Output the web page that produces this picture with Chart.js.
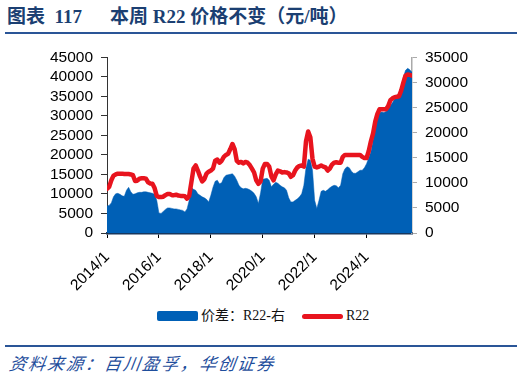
<!DOCTYPE html>
<html><head><meta charset="utf-8">
<script src="https://cdn.jsdelivr.net/npm/chart.js@4"></script>
<style>
html,body{margin:0;padding:0;background:#fff;width:524px;height:379px;overflow:hidden;position:relative;font-family:"Liberation Sans",Arial,sans-serif}
.t{position:absolute;top:5px;font-family:"Liberation Serif","Noto Sans CJK SC",serif;font-weight:bold;font-size:19px;color:#1b3f72;white-space:nowrap;line-height:24px}
.rule{position:absolute;left:5px;width:512px;height:2px;background:#2a5597}
#wrap{position:absolute;left:0;top:40px;width:524px;height:260px}
.lg{position:absolute;top:308px;height:16px;font-family:"Liberation Serif","Noto Sans CJK SC",serif;font-size:14px;color:#111;line-height:16px;white-space:nowrap}
.foot{position:absolute;left:8px;top:353px;font-family:"Noto Sans CJK SC",sans-serif;font-style:italic;font-size:17px;letter-spacing:2px;color:#1f4e9c;line-height:20px;white-space:nowrap;transform:skewX(-8deg);transform-origin:left bottom}
</style></head><body>
<div class="t" style="left:7px">图表&nbsp; 117</div>
<div class="t" style="left:110px">本周 R22 价格不变（元/吨）</div>
<div class="rule" style="top:32px"></div>
<div id="wrap"><canvas id="c" width="524" height="260"></canvas></div>
<div class="lg" style="left:157px"><span style="position:absolute;left:0;top:3px;width:41px;height:10px;background:#0060b6;border-radius:2px"></span><span style="position:absolute;left:44px;top:0" id="lg1"></span></div>
<div class="lg" style="left:302px"><span style="position:absolute;left:0;top:6px;width:41px;height:5px;background:#e8141e;border-radius:3px"></span><span style="position:absolute;left:44px;top:0" id="lg2"></span></div>
<div class="rule" style="top:345px"></div>
<div class="foot">资料来源：百川盈孚，华创证券</div>
<script>
// Series names
const seriesNames = ['价差：R22-右', 'R22'];
// Monthly data starting 2014/1
const startYear = 2014, startMonth = 1;
// R22 price (left axis, 元/吨)
const r22 = [
  11300,11800,13500,14700,15000,15200,15200,15200,15100,15100,15100,15000,
  14800,13300,13400,13900,14000,14000,13900,13000,12700,12600,11500,9500,
  9200,9200,9300,9700,10000,10000,9700,9700,9800,9600,9500,9500,
  9400,8800,9500,13000,16500,17300,16000,14500,13200,13800,15200,15700,
  16000,16500,18500,18800,18000,18500,19500,20000,20300,21500,22800,21500,
  18500,18000,18200,17800,18200,18000,17400,16500,15500,13500,12600,13200,
  16500,17700,17700,17000,14500,13500,15000,16000,15800,15500,15600,15500,
  15300,14400,14800,16000,16800,17200,17300,17000,23500,26000,24500,19000,
  17000,16800,17000,17300,17000,16800,16000,16500,17500,18000,18100,18000,
  18000,19500,20000,20000,20000,20000,20000,20000,20000,20000,19500,19200,
  19200,21000,23500,25500,28500,30500,31700,31700,31700,31700,32500,34000,
  34500,34800,34900,35000,36500,38500,40300,40600,40500,40300
];
// Spread R22 (right axis, 元/吨)
const spread = [
  5400,5500,6000,7200,7800,7900,7700,7400,7300,8500,9100,8200,
  7700,7800,8000,8100,8100,8200,8200,8100,8000,7900,7700,6500,
  4000,3900,4300,4700,5000,5000,4900,4800,4800,4700,4600,4500,
  4200,4800,6500,9100,8700,8500,7800,7500,7200,7000,6700,6200,
  7500,9100,10300,10500,9800,10000,11000,11500,11600,11700,11800,11300,
  10500,9500,9000,8800,8900,8800,8600,8300,7900,7200,5900,8000,
  10700,10800,10900,10500,9200,9700,10100,9900,9500,9200,9000,8500,
  7000,6200,6200,6500,6800,7200,7800,9500,13000,14700,14500,12500,
  6500,4900,6500,8300,8500,8300,8600,9000,9300,9500,9400,9000,
  9500,11800,12800,13200,13000,12300,11900,11900,12200,12500,12500,13000,
  13800,15000,16200,18500,21500,23000,24000,24100,24000,24200,25000,25400,
  26000,26800,27500,27700,29000,31000,32400,32800,32500,32000
];
// Axis tick settings
const leftTicks = {min:0, max:45000, step:5000};
const rightTicks = {min:0, max:35000, step:5000};
const xTickYears = [2014,2016,2018,2020,2022,2024];

document.getElementById('lg1').textContent = seriesNames[0];
document.getElementById('lg2').textContent = seriesNames[1];

const t = i => startYear + (startMonth - 1 + i) / 12;
const r22Pts = r22.map((v,i)=>({x:t(i), y:v}));
const spreadPts = spread.map((v,i)=>({x:t(i), y:v}));
const xMax = t(Math.max(r22.length, spread.length) - 1);

Chart.defaults.font.family = '"Liberation Sans", Arial, sans-serif';
Chart.defaults.color = '#000';

new Chart(document.getElementById('c'), {
  type: 'line',
  data: { datasets: [
    { label: seriesNames[1], data: r22Pts, yAxisID: 'y', borderColor:'#e8141e', borderWidth:4.5, pointRadius:0, fill:false, tension:0, order:0, borderJoinStyle:'round', borderCapStyle:'round' },
    { label: seriesNames[0], data: spreadPts, yAxisID: 'y1', borderColor:'#0060b6', backgroundColor:'#0060b6', borderWidth:0.5, pointRadius:0, fill:'origin', tension:0, order:1 }
  ]},
  options: {
    responsive:false, animation:false,
    layout:{ padding:{ top:17, left:0, right:0, bottom:0 } },
    plugins:{ legend:{display:false}, tooltip:{enabled:false} },
    scales:{
      x:{ type:'linear', min:startYear, max:xMax,
        afterFit: s => { s.height = 67; },
        afterBuildTicks: s => { s.ticks = xTickYears.map(v=>({value:v})); },
        ticks:{ font:{size:15.5}, maxRotation:45, minRotation:45, padding:10, autoSkip:false, callback: v => v + '/1' },
        grid:{ drawOnChartArea:false, drawTicks:true, tickLength:5, color:'#000' },
        border:{ color:'#17375e', width:2.5 } },
      y:{ position:'left', min:leftTicks.min, max:leftTicks.max,
        afterFit: s => { s.width = 107; },
        ticks:{ stepSize:leftTicks.step, font:{size:15.5}, padding:8, autoSkip:false, callback: v => String(v) },
        grid:{ drawOnChartArea:false, tickLength:6, color:'#333' },
        border:{ color:'#333', width:1 } },
      y1:{ position:'right', min:rightTicks.min, max:rightTicks.max,
        afterFit: s => { s.width = 112; },
        ticks:{ stepSize:rightTicks.step, font:{size:15.5}, padding:8, autoSkip:false, callback: v => String(v) },
        grid:{ drawOnChartArea:false, tickLength:5, color:'#aaa' },
        border:{ color:'#aaa', width:1.5 } }
    }
  }
});
</script>
</body></html>
